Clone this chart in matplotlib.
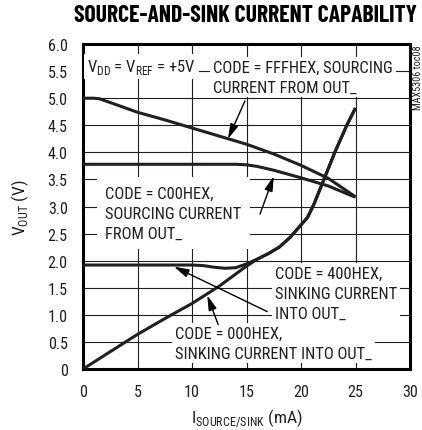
import matplotlib
matplotlib.use("Agg")
import matplotlib.pyplot as plt

body_font = 'Roboto Condensed'
plt.rcParams['font.family'] = [body_font, 'Archivo Narrow', 'DejaVu Sans']
plt.rcParams['mathtext.fontset'] = 'custom'
plt.rcParams['mathtext.rm'] = body_font

ink = '#231f20'

# sourcing, code = FFFHEX
i_fff = [0, 1, 1.5, 2.5, 5, 7.5, 10, 12.5, 15, 17.5, 20, 22.5, 25]
v_fff = [5.0, 5.0, 4.99, 4.92, 4.74, 4.6, 4.45, 4.3, 4.15, 3.97, 3.76, 3.52, 3.18]

# sourcing, code = C00HEX
i_c00 = [0, 5, 10, 14, 15, 16, 17.5, 20, 22.5, 25]
v_c00 = [3.78, 3.78, 3.78, 3.78, 3.77, 3.74, 3.67, 3.53, 3.38, 3.17]

# sinking, code = 400HEX
i_400 = [0, 5, 10, 11, 12, 13, 14, 15, 16, 17, 18, 19, 20, 20.6, 21.2, 22.1, 23.1, 24.2, 25]
v_400 = [1.92, 1.92, 1.92, 1.91, 1.88, 1.86, 1.87, 1.94, 2.03, 2.13, 2.25, 2.43, 2.66, 2.8, 3.05, 3.5, 4.0, 4.5, 4.82]

# sinking, code = 000HEX
i_000 = [0, 2.5, 5, 7.5, 10, 12.5, 15, 16, 17, 18, 19, 20, 20.6, 21.2, 22.1, 23.1, 24.2, 25]
v_000 = [0, 0.32, 0.64, 0.93, 1.21, 1.53, 1.9, 2.03, 2.13, 2.25, 2.43, 2.66, 2.8, 3.05, 3.5, 4.0, 4.5, 4.82]

x_ticks = [0, 5, 10, 15, 20, 25, 30]
y_ticks = [0, 0.5, 1.0, 1.5, 2.0, 2.5, 3.0, 3.5, 4.0, 4.5, 5.0, 5.5, 6.0]
y_tick_labels = ['0', '0.5', '1.0', '1.5', '2.0', '2.5', '3.0', '3.5', '4.0', '4.5', '5.0', '5.5', '6.0']

fig = plt.figure(figsize=(4.22, 4.31), dpi=100)
ax = fig.add_axes([0.1967, 0.1415, 0.7749, 0.754])
renderer = fig.canvas.get_renderer()


def fit_size(text, width_px, **kw):
    # font size that makes `text` about width_px pixels wide
    t = fig.text(0, 0, text, fontsize=10, **kw)
    w = t.get_window_extent(renderer).width
    t.remove()
    return 10 * width_px / w


xlabel = r'I$_{\mathregular{SOURCE/SINK}}$ (mA)'
ylabel = r'V$_{\mathregular{OUT}}$ (V)'
tsize = fit_size('SINKING CURRENT', 123)
ticksize = fit_size('0.5', 20)
labsize = fit_size(xlabel, 112)

for xs, ys in [(i_fff, v_fff), (i_c00, v_c00), (i_400, v_400), (i_000, v_000)]:
    ax.plot(xs, ys, color=ink, lw=2.2, solid_capstyle='butt', zorder=4)

ax.set_xlim(0, 30)
ax.set_ylim(0, 6)
ax.set_xticks(x_ticks)
ax.set_yticks(y_ticks)
ax.set_yticklabels(y_tick_labels)
ax.tick_params(length=0, labelsize=ticksize, colors=ink)
ax.tick_params(axis='y', pad=11)
ax.tick_params(axis='x', pad=11)
ax.grid(True, color=ink, lw=0.8)
ax.set_axisbelow(True)
for s in ax.spines.values():
    s.set_linewidth(2.2)
    s.set_color('black')

ax.set_xlabel(xlabel, fontsize=labsize, color=ink, labelpad=5)
ax.set_ylabel(ylabel, fontsize=labsize, color=ink, labelpad=12)

box = dict(facecolor='white', edgecolor='none', pad=2)
ls = 1.42
ax.text(0.37, 5.58, r'V$_{\mathregular{DD}}$ = V$_{\mathregular{REF}}$ = +5V', fontsize=tsize,
        color=ink, ha='left', va='center', bbox=box, zorder=3)

arrow = dict(arrowstyle='-|>,head_length=0.9,head_width=0.25', color='black', lw=1.0,
             shrinkA=0, shrinkB=0)

ax.text(11.93, 5.39, 'CODE = FFFHEX, SOURCING\nCURRENT FROM OUT_', fontsize=tsize, color=ink,
        ha='left', va='center', linespacing=ls, bbox=box, zorder=3)
ax.annotate('', xy=(13.3, 4.25), xytext=(14.86, 4.95), arrowprops=arrow, zorder=5)

ax.text(2.02, 2.88, 'CODE = C00HEX,\nSOURCING CURRENT\nFROM OUT_', fontsize=tsize, color=ink,
        ha='left', va='center', linespacing=ls,
        bbox=dict(facecolor='white', edgecolor='none', pad=6), zorder=3)
ax.annotate('', xy=(17.5, 3.56), xytext=(16.24, 2.86), arrowprops=arrow, zorder=5)

ax.text(17.6, 1.39, 'CODE = 400HEX,\nSINKING CURRENT\nINTO OUT_', fontsize=tsize, color=ink,
        ha='left', va='center', linespacing=ls, bbox=box, zorder=3)
ax.annotate('', xy=(8.35, 1.89), xytext=(16.9, 1.06), arrowprops=arrow, zorder=5)

ax.text(8.44, 0.48, 'CODE = 000HEX,\nSINKING CURRENT INTO OUT_', fontsize=tsize, color=ink,
        ha='left', va='center', linespacing=ls, bbox=box, zorder=3)
ax.annotate('', xy=(11.4, 1.36), xytext=(12.4, 0.82), arrowprops=arrow, zorder=5)

title_fam = ['Barlow Condensed', 'Archivo Narrow', 'DejaVu Sans']
title = 'SOURCE-AND-SINK CURRENT CAPABILITY'
title_size = fit_size(title, 344, family=title_fam, fontweight='bold')
fig.text(0.581, 0.963, title, fontsize=title_size, family=title_fam, fontweight='bold',
         color='black', ha='center', va='center')
mark = 'MAX5306 toc08'
fig.text(0.99, 0.82, mark, fontsize=fit_size(mark, 64), color=ink, rotation=90,
         ha='center', va='center')

fig.savefig('out.png', dpi=100)
